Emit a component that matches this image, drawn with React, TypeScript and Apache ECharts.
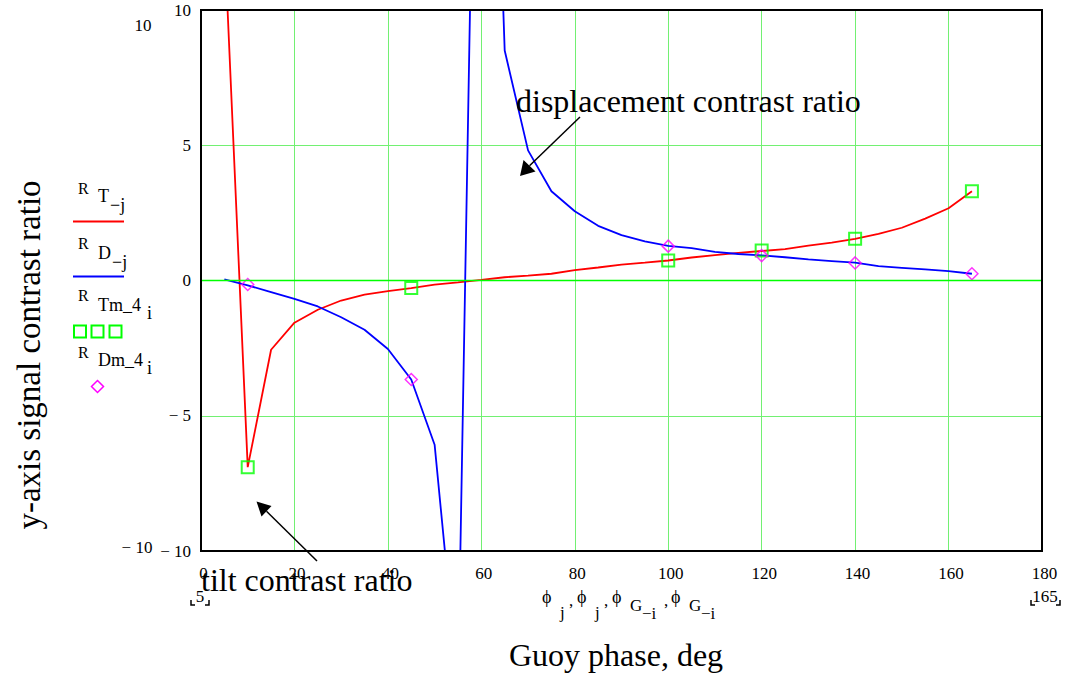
import React, { useEffect, useRef } from "react";
import * as echarts from "echarts";

// Guoy phase (deg) at which the model curves are evaluated
const phase = [5, 10, 15, 20, 25, 30, 35, 40, 45, 50, 55, 60, 65, 70, 75, 80, 85, 90, 95, 100, 105, 110, 115, 120, 125, 130, 135, 140, 145, 150, 155, 160, 165];
// R_T_j : tilt contrast ratio (model)
const tiltRatio = [12.7, -6.9, -2.56, -1.56, -1.08, -0.74, -0.52, -0.39, -0.28, -0.15, -0.07, 0.02, 0.12, 0.18, 0.25, 0.38, 0.48, 0.59, 0.66, 0.74, 0.85, 0.94, 1.02, 1.09, 1.16, 1.29, 1.4, 1.54, 1.72, 1.95, 2.29, 2.67, 3.3];
// R_D_j : displacement contrast ratio (model)
const dispRatio = [0.04, -0.18, -0.43, -0.68, -0.96, -1.36, -1.82, -2.53, -3.66, -6.07, -15, 33.6, 8.5, 4.81, 3.3, 2.56, 2.02, 1.68, 1.45, 1.28, 1.2, 1.06, 0.98, 0.93, 0.86, 0.78, 0.72, 0.66, 0.53, 0.47, 0.41, 0.35, 0.25];
// measured points (phi_G_i)
const measPhase = [10, 45, 100, 120, 140, 165];
const tiltMeasured = [-6.9, -0.28, 0.74, 1.11, 1.54, 3.3];
const dispMeasured = [-0.15, -3.66, 1.27, 0.92, 0.65, 0.25];

const FONT = "'Liberation Serif', 'Times New Roman', 'DejaVu Serif', serif";

function txt(text: string, x: number, y: number, size: number, align: string = "left", rot: number = 0) {
  return {
    type: "text",
    x,
    y,
    rotation: rot,
    silent: true,
    z: 100,
    style: {
      text,
      fill: "#000",
      font: `${size}px ${FONT}`,
      textAlign: align,
      textVerticalAlign: "middle",
    },
  };
}

function arrow(x1: number, y1: number, tip: [number, number], b1: [number, number], b2: [number, number]) {
  return [
    { type: "line", silent: true, z: 100, shape: { x1, y1, x2: (b1[0] + b2[0]) / 2, y2: (b1[1] + b2[1]) / 2 }, style: { stroke: "#000", lineWidth: 1.5 } },
    { type: "polygon", silent: true, z: 100, shape: { points: [tip, b1, b2] }, style: { fill: "#000" } },
  ];
}

export default function App() {
  const ref = useRef<HTMLDivElement>(null);
  useEffect(() => {
    if (!ref.current) return;
    const chart = echarts.init(ref.current, undefined, { renderer: "svg" });
    const gl = 201, gt = 10, gw = 841, gh = 541;
    const graphics: any[] = [
      // plot frame
      { type: "rect", silent: true, z: 90, shape: { x: gl, y: gt, width: gw, height: gh }, style: { fill: "none", stroke: "#000", lineWidth: 2 } },
      // duplicated Mathcad limit labels
      txt("10", 143, 25, 17, "center"),
      txt("\u2212 10", 137, 547, 17, "center"),
      // y title
      txt("y-axis signal contrast ratio", 29, 355, 33, "center", Math.PI / 2),
      // x title
      txt("Guoy phase, deg", 616, 655, 32, "center"),
      // x-axis variable names
      txt("\u03d5", 542, 597, 18), txt("j", 560, 612, 17), txt(",", 569, 600, 17),
      txt("\u03d5", 577, 597, 18), txt("j", 595, 612, 17), txt(",", 604, 600, 17),
      txt("\u03d5", 612, 597, 18), txt("G", 630, 605, 17), txt("\u2212i", 642, 613, 17), txt(",", 664, 600, 17),
      txt("\u03d5", 671, 597, 18), txt("G", 689, 605, 17), txt("\u2212i", 701, 613, 17),
      // range limits
      txt("5", 200, 596, 17, "center"),
      { type: "polyline", silent: true, z: 100, shape: { points: [[191, 600], [191, 605], [195, 605]] }, style: { stroke: "#000", lineWidth: 1.5, fill: "none" } },
      { type: "polyline", silent: true, z: 100, shape: { points: [[205, 605], [209, 605], [209, 600]] }, style: { stroke: "#000", lineWidth: 1.5, fill: "none" } },
      txt("165", 1045, 596, 17, "center"),
      { type: "polyline", silent: true, z: 100, shape: { points: [[1031, 600], [1031, 605], [1035, 605]] }, style: { stroke: "#000", lineWidth: 1.5, fill: "none" } },
      { type: "polyline", silent: true, z: 100, shape: { points: [[1056, 605], [1060, 605], [1060, 600]] }, style: { stroke: "#000", lineWidth: 1.5, fill: "none" } },
      // annotations
      txt("displacement contrast ratio", 516, 101, 32, "left"),
      ...arrow(580, 117, [520, 176], [523.5, 160], [535.5, 171.5]),
      txt("tilt contrast ratio", 201, 580, 32, "left"),
      ...arrow(317, 561, [256.5, 501.5], [261.5, 516.5], [271.5, 506]),
      // legend
      txt("R", 78, 188, 16), txt("T", 98, 196, 18), txt("\u2212j", 110, 205, 18),
      { type: "line", silent: true, z: 100, shape: { x1: 73, y1: 221.5, x2: 124, y2: 221.5 }, style: { stroke: "#ff0000", lineWidth: 2 } },
      txt("R", 78, 243, 16), txt("D", 98, 253, 18), txt("\u2212j", 112, 262, 18),
      { type: "line", silent: true, z: 100, shape: { x1: 73, y1: 276.5, x2: 124, y2: 276.5 }, style: { stroke: "#0000ff", lineWidth: 2 } },
      txt("R", 78, 295, 16), txt("Tm_4", 98, 305, 18), txt("i", 147, 313, 18),
      ...[80, 97.5, 115.5].map((cx) => ({ type: "rect", silent: true, z: 100, shape: { x: cx - 6, y: 325.5, width: 12, height: 12 }, style: { fill: "none", stroke: "#00ff00", lineWidth: 2 } })),
      txt("R", 78, 352, 16), txt("Dm_4", 98, 360, 18), txt("i", 147, 368, 18),
      { type: "polygon", silent: true, z: 100, shape: { points: [[97.5, 380.5], [103.5, 386.5], [97.5, 392.5], [91.5, 386.5]] }, style: { fill: "none", stroke: "#ff00ff", lineWidth: 1.5 } },
    ];

    chart.setOption({
      animation: false,
      backgroundColor: "#fff",
      grid: { left: gl, top: gt, width: gw, height: gh, show: false },
      xAxis: {
        type: "value",
        min: 0,
        max: 180,
        interval: 20,
        axisLine: { show: false },
        axisTick: { show: false },
        splitLine: { show: true, showMinLine: false, showMaxLine: false, lineStyle: { color: "#72f072", width: 1 } },
        axisLabel: { color: "#000", fontFamily: FONT, fontSize: 17, margin: 14, padding: [0, 0, 0, 5] },
      },
      yAxis: {
        type: "value",
        min: -10,
        max: 10,
        interval: 5,
        axisLine: { show: false },
        axisTick: { show: false },
        splitLine: { show: true, showMinLine: false, showMaxLine: false, lineStyle: { color: "#72f072", width: 1 } },
        axisLabel: {
          color: "#000",
          fontFamily: FONT,
          fontSize: 17,
          margin: 10,
          padding: [9, 0, 0, 0],
          formatter: (v: number) => (v < 0 ? "\u2212 " + Math.abs(v) : String(v)),
        },
      },
      series: [
        {
          type: "line",
          z: 1,
          data: [[0, 0], [180, 0]],
          showSymbol: false,
          silent: true,
          lineStyle: { opacity: 0 },
          markLine: {
            silent: true,
            symbol: ["none", "none"],
            label: { show: false },
            lineStyle: { color: "#00ff00", type: "solid", width: 1.3 },
            data: [{ yAxis: 0 }],
          },
        },
        {
          type: "line",
          z: 3,
          data: phase.map((p, i) => [p, tiltRatio[i]]),
          showSymbol: false,
          clip: true,
          lineStyle: { color: "#ff0000", width: 1.8 },
        },
        {
          type: "line",
          z: 3,
          data: phase.map((p, i) => [p, dispRatio[i]]),
          showSymbol: false,
          clip: true,
          lineStyle: { color: "#0000ff", width: 1.8 },
        },
        {
          type: "scatter",
          z: 4,
          symbol: "rect",
          symbolSize: 12,
          data: measPhase.map((p, i) => [p, tiltMeasured[i]]),
          itemStyle: { color: "rgba(0,0,0,0)", borderColor: "#00ff00", borderWidth: 2 },
        },
        {
          type: "scatter",
          z: 4,
          symbol: "diamond",
          symbolSize: [12, 12],
          data: measPhase.map((p, i) => [p, dispMeasured[i]]),
          itemStyle: { color: "rgba(0,0,0,0)", borderColor: "#ff00ff", borderWidth: 1.5 },
        },
      ],
      graphic: graphics,
    });
    return () => chart.dispose();
  }, []);
  return <div ref={ref} style={{ position: "fixed", left: 0, top: 0, width: 1073, height: 675 }} />;
}
